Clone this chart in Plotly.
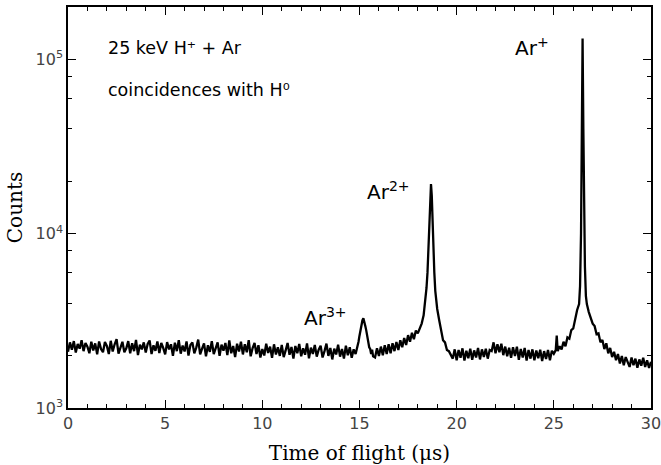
import math
import plotly.graph_objects as go

# ---- data (time in microseconds, counts per bin) ----
tof_us = [
    0.0, 0.1, 0.2, 0.3, 0.4, 0.5, 0.6, 0.7, 0.8, 0.9,
    1.0, 1.1, 1.2, 1.3, 1.4, 1.5, 1.6, 1.7, 1.8, 1.9,
    2.0, 2.1, 2.2, 2.3, 2.4, 2.5, 2.6, 2.7, 2.8, 2.9,
    3.0, 3.1, 3.2, 3.3, 3.4, 3.5, 3.6, 3.7, 3.8, 3.9,
    4.0, 4.1, 4.2, 4.3, 4.4, 4.5, 4.6, 4.7, 4.8, 4.9,
    5.0, 5.1, 5.2, 5.3, 5.4, 5.5, 5.6, 5.7, 5.8, 5.9,
    6.0, 6.1, 6.2, 6.3, 6.4, 6.5, 6.6, 6.7, 6.8, 6.9,
    7.0, 7.1, 7.2, 7.3, 7.4, 7.5, 7.6, 7.7, 7.8, 7.9,
    8.0, 8.1, 8.2, 8.3, 8.4, 8.5, 8.6, 8.7, 8.8, 8.9,
    9.0, 9.1, 9.2, 9.3, 9.4, 9.5, 9.6, 9.7, 9.8, 9.9,
    10.0, 10.1, 10.2, 10.3, 10.4, 10.5, 10.6, 10.7, 10.8, 10.9,
    11.0, 11.1, 11.2, 11.3, 11.4, 11.5, 11.6, 11.7, 11.8, 11.9,
    12.0, 12.1, 12.2, 12.3, 12.4, 12.5, 12.6, 12.7, 12.8, 12.9,
    13.0, 13.1, 13.2, 13.3, 13.4, 13.5, 13.6, 13.7, 13.8, 13.9,
    14.0, 14.1, 14.2, 14.3, 14.4, 14.5, 14.6, 14.7, 14.8,
    14.9, 14.95, 15.0, 15.05, 15.1, 15.15, 15.2, 15.25, 15.3, 15.35,
    15.4, 15.45, 15.5, 15.55, 15.6, 15.65, 15.7,
    15.8, 15.9, 16.0, 16.1, 16.2, 16.3, 16.4, 16.5, 16.6, 16.7,
    16.8, 16.9, 17.0, 17.1, 17.2, 17.3, 17.4, 17.5, 17.6, 17.7,
    17.8, 17.9,
    18.0, 18.1, 18.2, 18.3, 18.35, 18.4, 18.45, 18.5, 18.55, 18.6,
    18.64, 18.68, 18.72, 18.76, 18.8, 18.85, 18.9, 18.95, 19.0, 19.1,
    19.2, 19.3, 19.4, 19.5, 19.6, 19.7,
    19.8, 19.9, 20.0, 20.1, 20.2, 20.3, 20.4, 20.5, 20.6, 20.7,
    20.8, 20.9, 21.0, 21.1, 21.2, 21.3, 21.4, 21.5, 21.6, 21.7,
    21.8, 21.9, 22.0, 22.1, 22.2, 22.3, 22.4, 22.5, 22.6, 22.7,
    22.8, 22.9, 23.0, 23.1, 23.2, 23.3, 23.4, 23.5, 23.6, 23.7,
    23.8, 23.9, 24.0, 24.1, 24.2, 24.3, 24.4, 24.5, 24.6, 24.7,
    24.8, 24.9, 25.0, 25.1, 25.15, 25.2, 25.3, 25.4, 25.5, 25.6,
    25.7, 25.8, 25.9, 26.0, 26.1, 26.2, 26.3, 26.35, 26.4, 26.44,
    26.48, 26.52, 26.56, 26.6, 26.65, 26.7, 26.8, 26.9, 27.0, 27.1,
    27.2, 27.3, 27.4, 27.5, 27.6, 27.7, 27.8, 27.9, 28.0, 28.1,
    28.2, 28.3, 28.4, 28.5, 28.6, 28.7, 28.8, 28.9, 29.0, 29.1,
    29.2, 29.3, 29.4, 29.5, 29.6, 29.7, 29.8, 29.9, 30.0,
]

counts = [
    2100, 2380, 2160, 2420, 2080, 2330, 2190, 2450, 2120, 2360,
    2250, 2060, 2400, 2140, 2350, 2030, 2410, 2180, 2090, 2390,
    2270, 2040, 2430, 2110, 2320, 2480, 2050, 2260, 2400, 2090,
    2200, 2420, 2060, 2350, 2120, 2460, 2010, 2310, 2170, 2380,
    2080, 2330, 2440, 2040, 2290, 2130, 2410, 2070, 2360, 2210,
    2030, 2390, 2170, 2320, 1990, 2370, 2120, 2450, 2050, 2280,
    2110, 2410, 2000, 2300, 2380, 2060, 2220, 2470, 2030, 2190,
    2350, 1980, 2290, 2100, 2420, 2040, 2230, 2380, 1990, 2310,
    2130, 2360, 2010, 2440, 2060, 2270, 1960, 2340, 2110, 2400,
    2030, 2320, 2090, 2450, 1980, 2210, 2360, 2040, 2290, 1950,
    2180, 2000, 2340, 2070, 2250, 1940, 2320, 2030, 2230, 1990,
    2300, 1960, 2140, 2360, 2020, 2240, 1920, 2270, 2060, 2330,
    1980, 2200, 2020, 2350, 1930, 2220, 2040, 2300, 1970, 2160,
    2280, 1950, 2120, 2340, 1990, 2210, 1900, 2190, 2030, 2310,
    1970, 2180, 1920, 2280, 2010, 2230, 1940, 2170, 2040,
    2250, 2400, 2600, 2820, 3000, 3180, 3270, 3150, 2950, 2780,
    2520, 2420, 2230, 2180, 2040, 2160, 1980,
    1950, 2200, 1990, 2250, 2010, 2290, 2040, 2320, 2060, 2350,
    2120, 2390, 2150, 2450, 2230, 2520, 2300, 2620, 2400, 2700,
    2480, 2780,
    2680, 2850, 3050, 3400, 3800, 4200, 4900, 6000, 8000, 11500,
    16000, 19300, 16500, 11000, 7800, 6000, 4700, 4100, 3700, 3200,
    2850, 2450, 2380, 2150, 2120, 2000,
    1920, 2170, 1880, 2150, 1940, 2200, 1870, 2130, 1930, 2190,
    1890, 2140, 1950, 2210, 1900, 2170, 1960, 2190, 1920, 2150,
    2120, 2380, 2060, 2320, 2090, 2340, 2010, 2250, 1980, 2220,
    1940, 2230, 1990, 2250, 1890, 2180, 1950, 2210, 1870, 2150,
    1920, 2170, 1880, 2140, 1930, 2160, 1860, 2120, 1910, 2150,
    1880, 2130, 2050, 2150, 2600, 2120, 2260, 2170, 2400, 2260,
    2540, 2500, 2800, 2860, 3300, 3650, 3950, 5000, 10000, 35000,
    132000, 40000, 13000, 6500, 4400, 3950, 3550, 3250, 3050, 2950,
    2650, 2680, 2380, 2460, 2180, 2350, 2060, 2210, 1960, 2100,
    1880, 2040, 1800, 1990, 1760, 1960, 1820, 1720, 1950, 1760,
    1920, 1700, 1900, 1750, 1940, 1720, 1880, 1700, 1840,
]

x_major_ticks = [0, 5, 10, 15, 20, 25, 30]
x_tick_text = ["0", "5", "10", "15", "20", "25", "30"]
y_major_ticks = [1000, 10000, 100000]
y_tick_text = ["10<sup>3</sup>", "10<sup>4</sup>", "10<sup>5</sup>"]
y_minor_ticks = [2000, 4000, 6000, 8000, 20000, 40000, 60000, 80000]

# (text, time position, counts position, font size, anchor)
labels = [
    ("25 keV H⁺ + Ar", 1.95, 116000, 17.5, "left"),
    ("coincidences with H⁰", 1.95, 67000, 17.5, "left"),
    ("Ar<sup>+</sup>", 23.9, 118000, 20, "center"),
    ("Ar<sup>2+</sup>", 16.5, 17500, 20, "center"),
    ("Ar<sup>3+</sup>", 13.25, 3350, 20, "center"),
]

fig = go.Figure()
fig.add_trace(go.Scatter(
    x=tof_us, y=counts, mode="lines",
    line=dict(color="black", width=2.3),
    showlegend=False, hoverinfo="skip",
))

for text, xv, yv, size, anchor in labels:
    fig.add_annotation(
        x=xv, y=math.log10(yv), yref="y", xref="x", text=text, showarrow=False,
        xanchor=anchor, yanchor="middle",
        font=dict(family="DejaVu Sans", size=size, color="black"),
    )

axis_common = dict(
    showline=True, linecolor="black", linewidth=1.5, mirror="allticks",
    ticks="inside", ticklen=8, tickwidth=1, tickcolor="black",
    showgrid=False, zeroline=False,
    tickfont=dict(family="DejaVu Sans", size=16, color="#444444"),
    title_font=dict(family="DejaVu Serif", size=20, color="black"),
    ticklabeloverflow="allow",
)

fig.update_xaxes(
    range=[0, 30.001], tickvals=x_major_ticks, ticktext=x_tick_text,
    minor=dict(dtick=1, ticks="inside", ticklen=4, tickcolor="black", showgrid=False),
    title_text="Time of flight (μs)", title_standoff=14,
    **axis_common,
)
fig.update_yaxes(
    type="log", range=[3, 5.301], tickvals=y_major_ticks, ticktext=y_tick_text,
    minor=dict(tickvals=y_minor_ticks, ticks="inside", ticklen=4, tickcolor="black", showgrid=False),
    title_text="Counts", title_standoff=8,
    **axis_common,
)

fig.update_layout(
    width=661, height=465,
    margin=dict(l=68, r=10, t=7, b=57, autoexpand=False),
    paper_bgcolor="white", plot_bgcolor="white",
)

fig.write_html("out.html")
